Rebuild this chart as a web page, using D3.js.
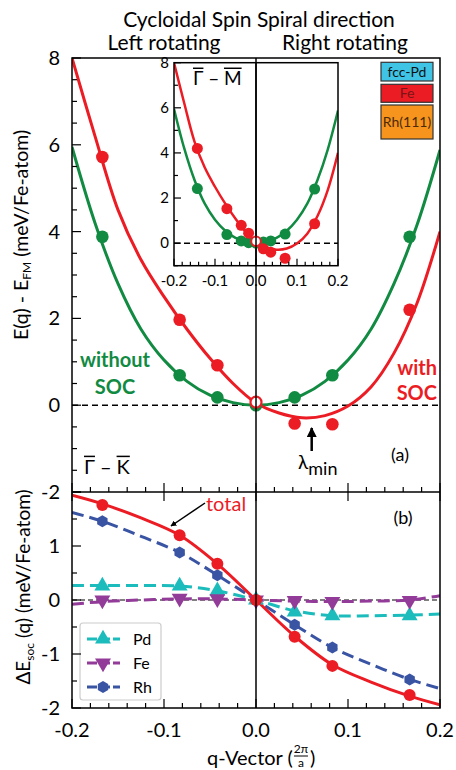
<!DOCTYPE html>
<html><head><meta charset="utf-8">
<script src="https://cdn.jsdelivr.net/npm/d3@7"></script>
<style>
html,body{margin:0;padding:0;background:#fff;}
svg{display:block;font-family:Lato,"Open Sans",sans-serif;}
</style></head>
<body>
<svg id="c" width="456" height="770"></svg>
<script>
// ---------------- DATA ----------------
// panel (a): E(q) - E_FM, meV/Fe-atom
const qPts = [-0.167, -0.083, -0.042, 0, 0.042, 0.083, 0.167];
const noSocPts = [3.88, 0.69, 0.18, 0.0, 0.18, 0.69, 3.88];
const socPts = [5.72, 1.97, 0.92, null, -0.42, -0.44, 2.2];
const socZero = 0.07;
// fitted curves
const curveQ = [-0.2, -0.175, -0.15, -0.125, -0.1, -0.075, -0.05, -0.025, 0, 0.025, 0.05, 0.075, 0.1, 0.125, 0.15, 0.175, 0.2];
const noSocCurve = [5.95, 4.2, 2.8, 1.75, 1.04, 0.55, 0.23, 0.06, 0, 0.06, 0.23, 0.55, 1.04, 1.75, 2.8, 4.15, 5.88];
const socCurve = [8.0, 6.2, 4.5, 3.35, 2.5, 1.75, 1.08, 0.5, 0.05, -0.18, -0.29, -0.24, -0.02, 0.42, 1.2, 2.35, 4.0];
// inset (Gamma - M)
const qInset = [-0.143, -0.071, -0.036, -0.018, 0, 0.018, 0.036, 0.071, 0.143];
const noSocInset = [2.42, 0.38, 0.1, 0.02, 0.0, 0.05, 0.1, 0.4, 2.4];
const socInset = [4.2, 1.53, 0.79, 0.44, null, -0.25, -0.4, -0.67, 0.86];
// panel (b): Delta E_soc
const qLine = [-0.2, -0.167, -0.125, -0.083, -0.042, 0, 0.042, 0.083, 0.125, 0.167, 0.2];
const totalLine = [1.94, 1.78, 1.52, 1.2, 0.67, 0, -0.67, -1.2, -1.52, -1.78, -1.94];
const totalPts = [1.76, 1.2, 0.67, 0, -0.68, -1.22, -1.76];
const rhLine = [1.62, 1.46, 1.18, 0.88, 0.46, 0, -0.46, -0.88, -1.19, -1.47, -1.64];
const rhPts = [1.46, 0.88, 0.46, 0, -0.46, -0.88, -1.47];
const pdLine = [0.27, 0.27, 0.27, 0.26, 0.17, 0, -0.2, -0.29, -0.29, -0.28, -0.26];
const pdPts = [0.26, 0.26, 0.17, 0, -0.22, -0.29, -0.29];
const feLine = [-0.08, -0.03, 0.0, 0.02, 0.02, 0, -0.02, -0.03, -0.02, 0.0, 0.08];
const fePts = [0.0, 0.03, 0.02, 0, -0.01, -0.03, -0.01];
const legendB = ["Pd", "Fe", "Rh"];
const legendA = ["fcc-Pd", "Fe", "Rh(111)"];
const xTicks = [-0.2, -0.1, 0.0, 0.1, 0.2];
const yTicksA = [-2, 0, 2, 4, 6, 8];
const yTicksB = [1, 0, -1, -2];
const yTicksInset = [0, 2, 4, 6, 8];

// ---------------- STYLE ----------------
const GREEN = "#118a42", RED = "#ec1c24", BLUE = "#3a54a4", CYAN = "#1cbcbc", PURPLE = "#933b99";
const L = 72, R = 440, T = 58, MID = 492, B = 708;
const svg = d3.select("#c");

const x = d3.scaleLinear([-0.2, 0.2], [L, R]);
const ya = d3.scaleLinear([-2, 8], [MID, T]);
const yb = d3.scaleLinear([-2, 2], [B, MID]);
const ix = d3.scaleLinear([-0.2, 0.2], [174, 338]);
const iy = d3.scaleLinear([-1, 8], [265.7, 62.7]);

const defs = svg.append("defs");
defs.append("clipPath").attr("id", "clipA").append("rect").attr("x", L).attr("y", T).attr("width", R - L).attr("height", MID - T);
defs.append("clipPath").attr("id", "clipB").append("rect").attr("x", L).attr("y", MID).attr("width", R - L).attr("height", B - MID);
defs.append("clipPath").attr("id", "clipI").append("rect").attr("x", 174).attr("y", 62.7).attr("width", 164).attr("height", 203);
defs.append("marker").attr("id", "ah").attr("viewBox", "0 0 10 10").attr("refX", 9).attr("refY", 5)
  .attr("markerWidth", 4).attr("markerHeight", 4).attr("orient", "auto")
  .append("path").attr("d", "M0,0L10,5L0,10z").attr("fill", "#000");

// ---------- Titles ----------
svg.append("text").attr("x", 259).attr("y", 27).attr("text-anchor", "middle").attr("font-size", 21).text("Cycloidal Spin Spiral direction");
svg.append("text").attr("x", 164).attr("y", 50).attr("text-anchor", "middle").attr("font-size", 21).text("Left rotating");
svg.append("text").attr("x", 345).attr("y", 50).attr("text-anchor", "middle").attr("font-size", 21).text("Right rotating");

// ---------- Panel (a) ----------
const gA = svg.append("g");
gA.append("line").attr("x1", L).attr("x2", R).attr("y1", ya(0)).attr("y2", ya(0))
  .attr("stroke", "#000").attr("stroke-width", 1.5).attr("stroke-dasharray", "6,4");
const lineA = d3.line().x((d, i) => x(curveQ[i])).y(d => ya(d)).curve(d3.curveCatmullRom);
const cA = gA.append("g").attr("clip-path", "url(#clipA)");
cA.append("path").attr("d", lineA(noSocCurve)).attr("fill", "none").attr("stroke", GREEN).attr("stroke-width", 3);
cA.append("path").attr("d", lineA(socCurve)).attr("fill", "none").attr("stroke", RED).attr("stroke-width", 3);
gA.selectAll(".gp").data(noSocPts).join("circle").attr("cx", (d, i) => x(qPts[i])).attr("cy", d => ya(d)).attr("r", 6.3).attr("fill", GREEN);
gA.selectAll(".rp").data(socPts.map((d, i) => [qPts[i], d]).filter(d => d[1] !== null)).join("circle")
  .attr("cx", d => x(d[0])).attr("cy", d => ya(d[1])).attr("r", 6.3).attr("fill", RED);
gA.append("circle").attr("cx", x(0)).attr("cy", ya(socZero)).attr("r", 5.5).attr("fill", "#fff").attr("stroke", RED).attr("stroke-width", 2.2);

// labels in (a)
gA.append("text").attr("x", 115).attr("y", 367).attr("text-anchor", "middle").attr("font-size", 20).attr("font-weight", "bold").attr("fill", GREEN).text("without");
gA.append("text").attr("x", 115).attr("y", 394).attr("text-anchor", "middle").attr("font-size", 20).attr("font-weight", "bold").attr("fill", GREEN).text("SOC");
gA.append("text").attr("x", 437).attr("y", 375).attr("text-anchor", "end").attr("font-size", 20).attr("font-weight", "bold").attr("fill", RED).text("with");
gA.append("text").attr("x", 437).attr("y", 400).attr("text-anchor", "end").attr("font-size", 20).attr("font-weight", "bold").attr("fill", RED).text("SOC");
gA.append("line").attr("x1", 311.7).attr("x2", 311.7).attr("y1", 451).attr("y2", 428).attr("stroke", "#000").attr("stroke-width", 2.5).attr("marker-end", "url(#ah)");
const lam = gA.append("text").attr("x", 298).attr("y", 469).attr("font-size", 19);
lam.append("tspan").text("λ");
lam.append("tspan").attr("dy", 6).attr("font-size", 18).text("min");
gA.append("text").attr("x", 400).attr("y", 461).attr("text-anchor", "middle").attr("font-size", 18).text("(a)");

function bzLabel(g, x0, yb0, a, b, fs) {
  const t1 = g.append("text").attr("x", x0).attr("y", yb0).attr("font-size", fs).text(a);
  const w1 = t1.node().getComputedTextLength();
  const t2 = g.append("text").attr("x", x0 + w1 + fs * 0.25).attr("y", yb0).attr("font-size", fs).text("–");
  const w2 = t2.node().getComputedTextLength();
  const x3 = x0 + w1 + fs * 0.5 + w2;
  const t3 = g.append("text").attr("x", x3).attr("y", yb0).attr("font-size", fs).text(b);
  const w3 = t3.node().getComputedTextLength();
  const oy = yb0 - fs * 0.88;
  g.append("line").attr("x1", x0).attr("x2", x0 + w1).attr("y1", oy).attr("y2", oy).attr("stroke", "#000").attr("stroke-width", 1.5);
  g.append("line").attr("x1", x3).attr("x2", x3 + w3).attr("y1", oy).attr("y2", oy).attr("stroke", "#000").attr("stroke-width", 1.5);
}
bzLabel(gA, 84, 474, "Γ", "K", 20);

// top-right legend (a)
const legCols = ["#3fc4e6", "#ec1c24", "#f7941d"];
const legTxt = ["#111", "#7a1416", "#4a2a0a"];
const legY = [62.3, 84.3, 105];
const legH = [18.7, 18, 34];
legendA.forEach((s, i) => {
  gA.append("rect").attr("x", 381).attr("y", legY[i]).attr("width", 52).attr("height", legH[i])
    .attr("fill", legCols[i]).attr("stroke", "#333").attr("stroke-width", 1.2);
  gA.append("text").attr("x", 407).attr("y", legY[i] + legH[i] / 2 + 5).attr("text-anchor", "middle")
    .attr("font-size", 14).attr("fill", legTxt[i]).text(s);
});

// ---------- Inset ----------
const gI = svg.append("g");
gI.append("rect").attr("x", 174).attr("y", 62.7).attr("width", 164).attr("height", 203).attr("fill", "#fff");
gI.append("line").attr("x1", 174).attr("x2", 338).attr("y1", iy(0)).attr("y2", iy(0)).attr("stroke", "#000").attr("stroke-width", 1.5).attr("stroke-dasharray", "6,4");
const lineI = d3.line().x((d, i) => ix(curveQ[i])).y(d => iy(d)).curve(d3.curveCatmullRom);
const cI = gI.append("g").attr("clip-path", "url(#clipI)");
cI.append("path").attr("d", lineI(noSocCurve)).attr("fill", "none").attr("stroke", GREEN).attr("stroke-width", 2.5);
cI.append("path").attr("d", lineI(socCurve)).attr("fill", "none").attr("stroke", RED).attr("stroke-width", 2.5);
gI.append("line").attr("x1", ix(0)).attr("x2", ix(0)).attr("y1", 62.7).attr("y2", 265.7).attr("stroke", "#000").attr("stroke-width", 1.5);
gI.selectAll(".ig").data(noSocInset).join("circle").attr("cx", (d, i) => ix(qInset[i])).attr("cy", d => iy(d)).attr("r", 5.5).attr("fill", GREEN);
gI.selectAll(".ir").data(socInset.map((d, i) => [qInset[i], d]).filter(d => d[1] !== null)).join("circle")
  .attr("cx", d => ix(d[0])).attr("cy", d => iy(d[1])).attr("r", 5.5).attr("fill", RED);
gI.append("circle").attr("cx", ix(0)).attr("cy", iy(0.08)).attr("r", 4.8).attr("fill", "#fff").attr("stroke", RED).attr("stroke-width", 2);
// inset axes
gI.append("rect").attr("x", 174).attr("y", 62.7).attr("width", 164).attr("height", 203).attr("fill", "none").attr("stroke", "#000").attr("stroke-width", 1.5);
d3.range(-0.2, 0.2001, 0.02).forEach(v => {
  const maj = Math.abs(Math.round(v * 10) - v * 10) < 1e-6;
  gI.append("line").attr("x1", ix(v)).attr("x2", ix(v)).attr("y1", 265.7).attr("y2", 265.7 - (maj ? 7 : 4)).attr("stroke", "#000").attr("stroke-width", 1.2);
});
d3.range(-1, 8.001, 1).forEach(v => {
  const maj = v % 2 === 0;
  gI.append("line").attr("x1", 174).attr("x2", 174 + (maj ? 7 : 4)).attr("y1", iy(v)).attr("y2", iy(v)).attr("stroke", "#000").attr("stroke-width", 1.2);
});
xTicks.forEach(v => gI.append("text").attr("x", ix(v)).attr("y", 286).attr("text-anchor", "middle").attr("font-size", 15).text(v.toFixed(1)));
yTicksInset.forEach(v => gI.append("text").attr("x", 169).attr("y", iy(v) + 5).attr("text-anchor", "end").attr("font-size", 15).text(v));
bzLabel(gI, 193, 85, "Γ", "M", 19);

// ---------- Panel (b) ----------
const gB = svg.append("g");
gB.append("line").attr("x1", L).attr("x2", R).attr("y1", yb(0)).attr("y2", yb(0)).attr("stroke", "#000").attr("stroke-width", 1).attr("stroke-dasharray", "5,3");
const lineB = d3.line().x((d, i) => x(qLine[i])).y(d => yb(d)).curve(d3.curveCatmullRom);
const cB = gB.append("g").attr("clip-path", "url(#clipB)");
cB.append("path").attr("d", lineB(pdLine)).attr("fill", "none").attr("stroke", CYAN).attr("stroke-width", 3).attr("stroke-dasharray", "12,6");
cB.append("path").attr("d", lineB(feLine)).attr("fill", "none").attr("stroke", PURPLE).attr("stroke-width", 3).attr("stroke-dasharray", "12,6");
cB.append("path").attr("d", lineB(rhLine)).attr("fill", "none").attr("stroke", BLUE).attr("stroke-width", 3).attr("stroke-dasharray", "12,6");
cB.append("path").attr("d", lineB(totalLine)).attr("fill", "none").attr("stroke", RED).attr("stroke-width", 3);

const triUp = d3.symbol(d3.symbolTriangle, 110)();
const hex = (r) => { const p = []; for (let k = 0; k < 6; k++) { const a = Math.PI / 6 + k * Math.PI / 3; p.push([r * Math.cos(a), r * Math.sin(a)]); } return "M" + p.join("L") + "Z"; };
gB.selectAll(".pd").data(pdPts).join("path").attr("d", triUp).attr("transform", (d, i) => `translate(${x(qPts[i])},${yb(d)})`).attr("fill", CYAN);
gB.selectAll(".fe").data(fePts).join("path").attr("d", triUp).attr("transform", (d, i) => `translate(${x(qPts[i])},${yb(d)}) rotate(180)`).attr("fill", PURPLE);
gB.selectAll(".rh").data(rhPts).join("path").attr("d", hex(6)).attr("transform", (d, i) => `translate(${x(qPts[i])},${yb(d)})`).attr("fill", BLUE);
gB.selectAll(".tt").data(totalPts).join("circle").attr("cx", (d, i) => x(qPts[i])).attr("cy", d => yb(d)).attr("r", 6).attr("fill", RED);

gB.append("text").attr("x", 206).attr("y", 511).attr("font-size", 20).attr("fill", RED).text("total");
gB.append("line").attr("x1", 205).attr("y1", 503).attr("x2", 171).attr("y2", 526).attr("stroke", "#000").attr("stroke-width", 1.5).attr("marker-end", "url(#ah)");
gB.append("text").attr("x", 403).attr("y", 524).attr("text-anchor", "middle").attr("font-size", 18).text("(b)");

// legend (b)
gB.append("rect").attr("x", 80).attr("y", 623).attr("width", 81).attr("height", 77).attr("rx", 3).attr("fill", "#fff").attr("stroke", "#ccc").attr("stroke-width", 1.2);
const legBcol = [CYAN, PURPLE, BLUE];
const legBy = [639, 663, 687];
legendB.forEach((s, i) => {
  gB.append("line").attr("x1", 87).attr("x2", 120).attr("y1", legBy[i]).attr("y2", legBy[i]).attr("stroke", legBcol[i]).attr("stroke-width", 3).attr("stroke-dasharray", "10,3");
  let sym;
  if (i === 0) sym = gB.append("path").attr("d", triUp).attr("transform", `translate(103,${legBy[i]})`);
  else if (i === 1) sym = gB.append("path").attr("d", triUp).attr("transform", `translate(103,${legBy[i]}) rotate(180)`);
  else sym = gB.append("path").attr("d", hex(6)).attr("transform", `translate(103,${legBy[i]})`);
  sym.attr("fill", legBcol[i]);
  gB.append("text").attr("x", 133).attr("y", legBy[i] + 5.5).attr("font-size", 16).text(s);
});

// ---------- Frame, axes ----------
const gF = svg.append("g");
gF.append("line").attr("x1", x(0)).attr("x2", x(0)).attr("y1", T).attr("y2", B).attr("stroke", "#000").attr("stroke-width", 1.5);
gF.append("rect").attr("x", L).attr("y", T).attr("width", R - L).attr("height", B - T).attr("fill", "none").attr("stroke", "#000").attr("stroke-width", 1.5);
gF.append("line").attr("x1", L).attr("x2", R).attr("y1", MID).attr("y2", MID).attr("stroke", "#000").attr("stroke-width", 1.5);
// x ticks
d3.range(-0.2, 0.2001, 0.02).forEach(v => {
  const maj = Math.abs(Math.round(v * 10) - v * 10) < 1e-6;
  const len = maj ? 9 : 5;
  gF.append("line").attr("x1", x(v)).attr("x2", x(v)).attr("y1", B).attr("y2", B - len).attr("stroke", "#000").attr("stroke-width", 1.2);
  gF.append("line").attr("x1", x(v)).attr("x2", x(v)).attr("y1", MID + (maj ? len : 0)).attr("y2", MID - len).attr("stroke", "#000").attr("stroke-width", 1.2);
});
// y ticks panel (a)
d3.range(-2, 8.001, 0.5).forEach(v => {
  const maj = v % 2 === 0;
  gF.append("line").attr("x1", L).attr("x2", L + (maj ? 9 : 5)).attr("y1", ya(v)).attr("y2", ya(v)).attr("stroke", "#000").attr("stroke-width", 1.2);
});
d3.range(-2, 2.001, 0.5).forEach(v => {
  const maj = Number.isInteger(v);
  gF.append("line").attr("x1", L).attr("x2", L + (maj ? 9 : 5)).attr("y1", yb(v)).attr("y2", yb(v)).attr("stroke", "#000").attr("stroke-width", 1.2);
});
yTicksA.forEach(v => gF.append("text").attr("x", 60).attr("y", ya(v) + 7).attr("text-anchor", "end").attr("font-size", 20).text(v));
yTicksB.forEach(v => gF.append("text").attr("x", 60).attr("y", yb(v) + 7).attr("text-anchor", "end").attr("font-size", 20).text(v));
xTicks.forEach(v => gF.append("text").attr("x", x(v)).attr("y", 737).attr("text-anchor", "middle").attr("font-size", 20).text(v.toFixed(1)));

// axis titles
const ta = gF.append("text").attr("transform", "translate(28,235) rotate(-90)").attr("text-anchor", "middle").attr("font-size", 19.5);
ta.append("tspan").text("E(q) - E");
ta.append("tspan").attr("font-size", 12).attr("dy", 3).text("FM");
ta.append("tspan").attr("dy", -3).text("  (meV/Fe-atom)");
const tb = gF.append("text").attr("transform", "translate(30,587) rotate(-90)").attr("text-anchor", "middle").attr("font-size", 19);
tb.append("tspan").text("ΔE");
tb.append("tspan").attr("font-size", 12).attr("dy", 4).text("soc");
tb.append("tspan").attr("dy", -4).text(" (q) (meV/Fe-atom)");

const xl = gF.append("text").attr("x", 207).attr("y", 765).attr("font-size", 20).text("q-Vector (");
const xw = xl.node().getComputedTextLength();
gF.append("text").attr("x", 207 + xw + 8).attr("y", 753).attr("text-anchor", "middle").attr("font-size", 12).text("2π");
gF.append("line").attr("x1", 207 + xw + 1).attr("x2", 207 + xw + 15).attr("y1", 756).attr("y2", 756).attr("stroke", "#000").attr("stroke-width", 1);
gF.append("text").attr("x", 207 + xw + 8).attr("y", 767).attr("text-anchor", "middle").attr("font-size", 12).text("a");
gF.append("text").attr("x", 207 + xw + 17).attr("y", 765).attr("font-size", 20).text(")");
</script>
</body></html>
